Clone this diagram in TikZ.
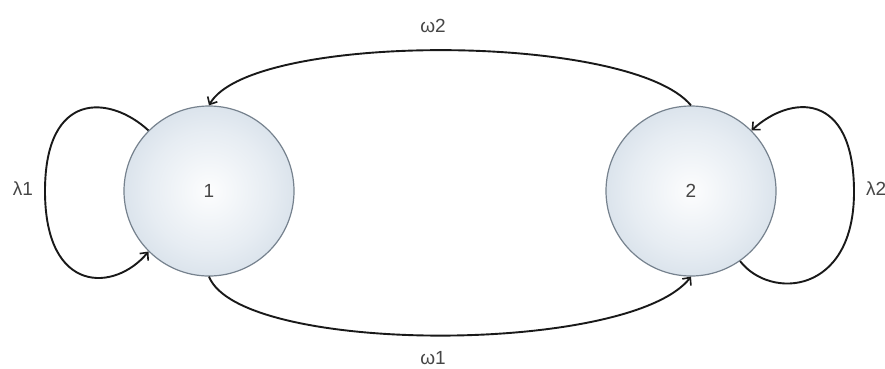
\documentclass[tikz,border=0pt]{standalone}
\usepackage{fontspec}
\setmainfont{Liberation Sans}
\usetikzlibrary{arrows.meta}
\definecolor{edgeblue}{RGB}{180,197,214}
\definecolor{midblue}{RGB}{214,224,234}
\definecolor{rimgray}{RGB}{118,130,142}
\definecolor{inkc}{RGB}{25,25,25}
\definecolor{txtc}{RGB}{70,70,70}
\pgfdeclareradialshading{stateball}{\pgfpoint{0bp}{0bp}}{color(0bp)=(white!94!midblue); color(18bp)=(midblue!60!white); color(50bp)=(edgeblue)}
\begin{document}
\begin{tikzpicture}[x=1pt,y=-1pt,
  state/.style={circle, draw=rimgray, line width=1.2pt, shading=stateball, minimum size=170pt, inner sep=0pt, font=\fontsize{19}{22}\selectfont, text=txtc},
  lab/.style={font=\fontsize{19}{22}\selectfont, text=txtc, inner sep=0pt},
  conn/.style={draw=inkc, line width=1.9pt, -{Straight Barb[length=6pt,width=11pt,line width=1.6pt]}}]
\useasboundingbox[fill=white] (0,0) rectangle (885,368);
\node[state] (n1) at (209,191) {1};
\node[state] (n2) at (691,191) {2};
\draw[conn] (n2.north) .. controls (630,32) and (250,32) .. (n1.north);
\draw[conn] (n1.south) .. controls (240,355) and (630,355) .. (n2.south);
\draw[conn] (n1.135) .. controls (110,95) and (45,90) .. (45,191) .. controls (45,295) and (115,292) .. (n1.225);
\draw[conn] (n2.-55) .. controls (770,300) and (854,295) .. (854,192) .. controls (854,90) and (790,95) .. (n2.45);
\node[lab] (l1) at (23,189) {λ1};
\node[lab, anchor=west] (l2) at (866,189) {λ2};
\node[lab] (w2) at (433,26) {ω2};
\node[lab] (w1) at (433,358) {ω1};
\end{tikzpicture}
\end{document}
